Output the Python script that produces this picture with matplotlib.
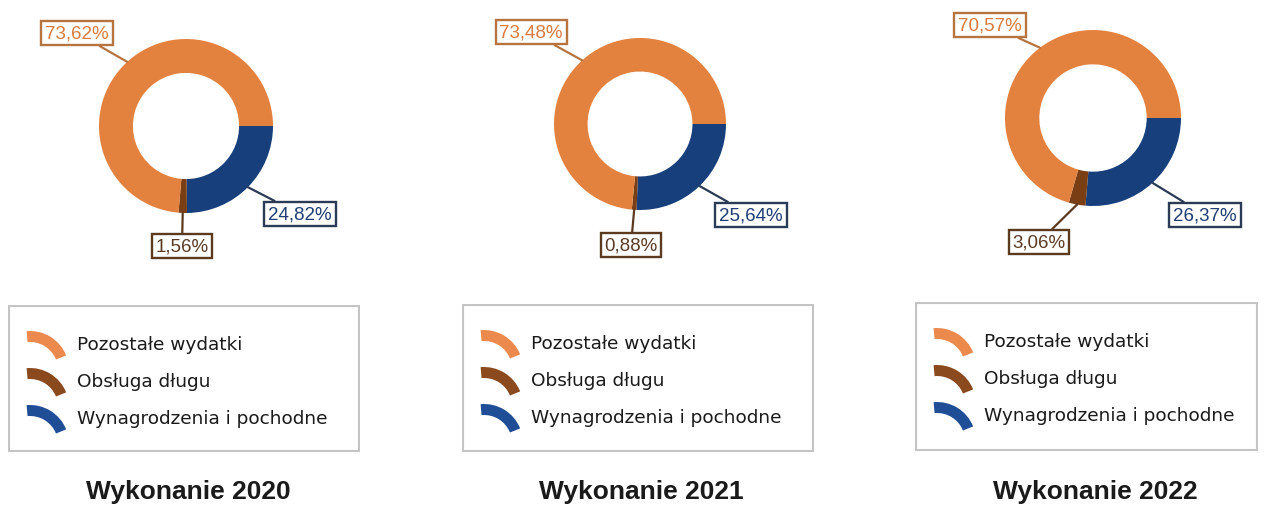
import numpy as np
import matplotlib
matplotlib.use("Agg")
import matplotlib.pyplot as plt
from matplotlib.patches import Wedge, Rectangle

W, H = 1274, 506

# dane
kategorie = ["Pozostałe wydatki", "Obsługa długu", "Wynagrodzenia i pochodne"]
lata = ["Wykonanie 2020", "Wykonanie 2021", "Wykonanie 2022"]
pozostale = [73.62, 73.48, 70.57]
obsluga = [1.56, 0.88, 3.06]
wynagrodzenia = [24.82, 25.64, 26.37]

# kolory
kol_pie = {"poz": "#E3813F", "obs": "#7A3E14", "wyn": "#173F7C"}
kol_leg = ["#EC8A4E", "#8B4A1E", "#1F4E96"]
kol_txt = {"poz": "#D97A3E", "obs": "#5A3A25", "wyn": "#1F3D73"}
kol_ramka = {"poz": "#B8743F", "obs": "#5C3A20", "wyn": "#2B3A55"}

# polozenia (piksele, od gory)
srodki = [(186, 127, 87), (640, 125, 86), (1093, 119, 88)]
etykiety = [
    {"poz": (77, 34), "wyn": (300, 215), "obs": (182, 247)},
    {"poz": (531, 33), "wyn": (751, 216), "obs": (631, 246)},
    {"poz": (990, 26), "wyn": (1205, 216), "obs": (1039, 243)},
]
legendy = [(8, 306, 352, 147), (462, 305, 352, 148), (915, 303, 343, 149)]
tytuly = [(188, 492), (641, 492), (1095, 492)]

fig = plt.figure(figsize=(W / 100, H / 100), dpi=100)
fig.patch.set_facecolor("white")


def fmt(v):
    return f"{v:.2f}".replace(".", ",") + "%"


for i in range(3):
    cx, cy, R = srodki[i]
    ax = fig.add_axes([(cx - R) / W, 1 - (cy + R) / H, 2 * R / W, 2 * R / H])
    vals = [wynagrodzenia[i], obsluga[i], pozostale[i]]
    keys = ["wyn", "obs", "poz"]
    wedges, _ = ax.pie(vals, radius=1, startangle=0, counterclock=False,
                       colors=[kol_pie[k] for k in keys],
                       wedgeprops=dict(width=0.39, edgecolor="none"))
    ax.set_xlim(-1, 1)
    ax.set_ylim(-1, 1)
    ax.set_aspect("equal")
    ax.axis("off")

    for w, k, v in zip(wedges, keys, vals):
        mid = np.deg2rad((w.theta1 + w.theta2) / 2)
        px, py = etykiety[i][k]
        ax.annotate(fmt(v), xy=(np.cos(mid), np.sin(mid)),
                    xytext=(px, H - py), textcoords="figure pixels",
                    ha="center", va="center", fontsize=13.5,
                    family="Liberation Sans", color=kol_txt[k],
                    bbox=dict(boxstyle="square,pad=0.2", fc="white",
                              ec=kol_ramka[k], lw=1.7),
                    arrowprops=dict(arrowstyle="-", color=kol_ramka[k], lw=1.6,
                                    shrinkA=0, shrinkB=0),
                    annotation_clip=False)

    # legenda
    lx, ly, lw_, lh = legendy[i]
    lax = fig.add_axes([lx / W, 1 - (ly + lh) / H, lw_ / W, lh / H])
    lax.set_xlim(0, lw_)
    lax.set_ylim(lh, 0)
    lax.axis("off")
    lax.add_patch(Rectangle((1, 1), lw_ - 2, lh - 2, fill=False, ec="#C4C4C4", lw=1.5))
    for j, (nazwa, c) in enumerate(zip(kategorie, kol_leg)):
        yc = 39 + j * 37
        # luk (os y odwrocona -> katy ujemne)
        lax.add_patch(Wedge((22, yc + 26), 39, -95, -22, width=11, fc=c, ec="none"))
        lax.text(69, yc, nazwa, ha="left", va="center", fontsize=13.3,
                 family="DejaVu Sans", color="#1A1A1A")

    tx, ty = tytuly[i]
    fig.text(tx / W, 1 - ty / H, lata[i], ha="center", va="center",
             fontsize=19, fontweight="bold", family="Liberation Sans", color="#1A1A1A")

fig.savefig("out.png", dpi=100, facecolor="white")
